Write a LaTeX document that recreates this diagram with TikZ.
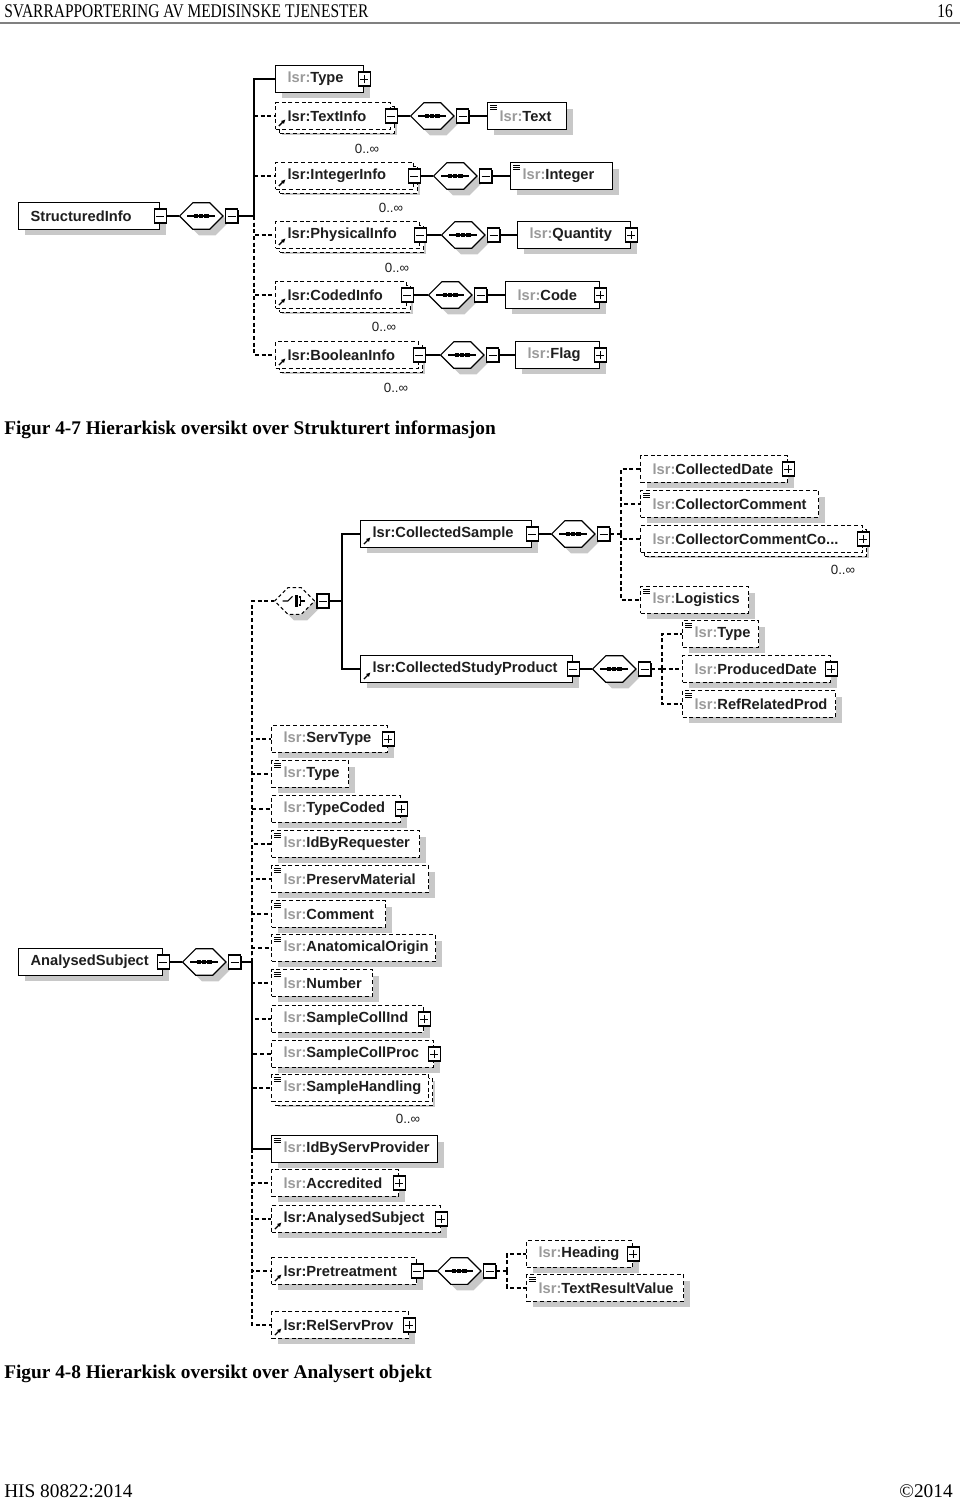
\documentclass[tikz,border=0pt]{standalone}
\usepackage{fontspec}
\setmainfont{Liberation Serif}
\newfontfamily\xsdfont{Liberation Sans}
\newfontfamily\hdrfont[FakeStretch=0.8]{Liberation Serif}
\usetikzlibrary{shapes.misc,shadows,arrows.meta}
\definecolor{pfxgray}{HTML}{9A9A9A}
\definecolor{shgray}{HTML}{C8C8C8}
\definecolor{txtblack}{HTML}{1E1E1E}
\newcommand\lsr[1]{\mbox{\textcolor{pfxgray}{lsr:}#1}}
\newcommand\lsrref[1]{\mbox{lsr:#1}}
\tikzset{
  elem/.style={draw, fill=white, anchor=west, line width=0.9pt, minimum height=20pt,
    inner xsep=9pt, inner ysep=0pt, align=left, text=txtblack,
    font=\xsdfont\bfseries\fontsize{11}{13}\selectfont,
    drop shadow={shadow xshift=4.5pt, shadow yshift=-4.5pt, fill=shgray, opacity=1}},
  bw/.code={\pgfmathsetmacro\bwd{#1*0.75-18}\pgfkeysalso{text width=\bwd pt}},
  optelem/.style={elem, dash pattern=on 3pt off 2pt},
  multielem/.style={optelem, general shadow={shadow xshift=3pt, shadow yshift=-3pt,
    draw=black, fill=white, line width=0.9pt, dash pattern=on 3pt off 2pt}},
  docicon/.style={path picture={
    \foreach \k in {0,1,2}
      \draw[solid, line width=0.5pt] ([xshift=2pt,yshift={-2pt-1.4pt*\k}]path picture bounding box.north west) -- ++(5pt,0pt);}},
  reficon/.style={path picture={
    \draw[solid, line width=1pt, -{Latex[length=3.2pt,width=3.2pt]}]
      ([xshift=2.5pt,yshift=2.5pt]path picture bounding box.south west) -- ++(5pt,5pt);}},
  pmbox/.style={draw, fill=white, solid, line width=0.9pt, minimum width=9pt, minimum height=10.5pt, inner sep=0pt,
    drop shadow={shadow xshift=0.9pt, shadow yshift=-0.9pt, fill=black, opacity=1}},
  pmminus/.style={pmbox, path picture={
    \draw[line width=0.7pt] ([xshift=-3pt]path picture bounding box.center) -- ([xshift=3pt]path picture bounding box.center);}},
  pmplus/.style={pmbox, path picture={
    \draw[line width=0.7pt] ([xshift=-3pt]path picture bounding box.center) -- ([xshift=3pt]path picture bounding box.center)
      ([yshift=-3pt]path picture bounding box.center) -- ([yshift=3pt]path picture bounding box.center);}},
  seqc/.style={chamfered rectangle, chamfered rectangle xsep=5.5pt, chamfered rectangle ysep=5.5pt,
    draw, fill=white, line width=0.9pt, anchor=west, inner sep=0pt,
    text width=23.5pt, text height=4.5pt, text depth=4.5pt,
    drop shadow={shadow xshift=4.5pt, shadow yshift=-4.5pt, fill=shgray, opacity=1},
    path picture={
      \draw[line width=1pt] ([xshift=-10.5pt]path picture bounding box.center) -- ([xshift=10.5pt]path picture bounding box.center);
      \foreach \dx in {-4pt,0pt,4pt}
        \fill[black] ([xshift=\dx]path picture bounding box.center) +(-1.6pt,-1.6pt) rectangle +(1.6pt,1.6pt);}},
  choicec/.style={chamfered rectangle, chamfered rectangle xsep=5pt, chamfered rectangle ysep=5pt,
    draw, fill=white, line width=0.8pt, dash pattern=on 2.5pt off 2pt, anchor=west, inner sep=0pt,
    text width=20pt, text height=5pt, text depth=5pt,
    drop shadow={shadow xshift=4.5pt, shadow yshift=-4.5pt, fill=shgray, opacity=1},
    path picture={
      \coordinate (cc) at (path picture bounding box.center);
      \draw[solid, line width=0.8pt] ([xshift=-9pt]cc) -- ([xshift=-5pt]cc) -- ([xshift=-1.5pt,yshift=3.5pt]cc);
      \foreach \dy in {-3pt,0pt,3pt}
        \fill[black] ([xshift=1.3pt,yshift=\dy]cc) +(-1.2pt,-1.2pt) rectangle +(1.2pt,1.2pt);
      \draw[solid, line width=0.8pt] ([xshift=3pt,yshift=3pt]cc) -- ([xshift=4.8pt,yshift=3pt]cc) -- ([xshift=4.8pt,yshift=-3pt]cc)
        -- ([xshift=3pt,yshift=-3pt]cc) ([xshift=4.8pt]cc) -- ([xshift=8pt]cc);}},
  conn/.style={line width=0.8pt},
  optconn/.style={line width=0.8pt, dash pattern=on 3pt off 2pt},
  occurs/.style={font=\xsdfont\fontsize{10}{12}\selectfont, text=txtblack, inner sep=0pt}
}
\begin{document}
\begin{tikzpicture}[x=0.75pt, y=-0.75pt]
\useasboundingbox (0,0) rectangle (960,1500);
% page header
\node[anchor=base west, inner sep=0pt, font=\hdrfont\fontsize{14.5}{16}\selectfont] (hdr) at (4,17) {SVARRAPPORTERING AV MEDISINSKE TJENESTER};
\node[anchor=base east, inner sep=0pt, font=\hdrfont\fontsize{14.5}{16}\selectfont] (pgno) at (953,17) {16};
\draw[gray, line width=1.2pt] (0,23) -- (960,23);

% Figur 4-7
\node[elem, bw=141] (structinfo) at (18,216) {\mbox{StructuredInfo}};
\node[pmminus] (structinfo-pm) at (structinfo.east) {};
\node[seqc] (structinfo-seq) at (179,216) {};
\node[pmminus] (structinfo-seqpm) at ([xshift=6pt]structinfo-seq.east) {};
\coordinate (br-a) at (254,216);
\draw[conn] (structinfo-pm) -- (structinfo-seq);
\draw[conn] (structinfo-seqpm) -- (br-a);

\node[elem, bw=88] (type) at (275,79) {\lsr{Type}};
\node[pmplus] (type-pm) at (type.east) {};

\node[multielem, reficon, bw=115] (textinfo) at (275,116) {\lsrref{TextInfo}};
\node[pmminus] (textinfo-pm) at (textinfo.east) {};
\node[seqc] (textinfo-seq) at (410,116) {};
\node[pmminus] (textinfo-seqpm) at ([xshift=6pt]textinfo-seq.east) {};
\node[elem, docicon, bw=79] (text) at (487,116) {\lsr{Text}};
\node[occurs] (textinfo-occ) at (367,149) {0..\char"221E};

\node[multielem, reficon, bw=138] (integerinfo) at (275,176) {\lsrref{IntegerInfo}};
\node[pmminus] (integerinfo-pm) at (integerinfo.east) {};
\node[seqc] (integerinfo-seq) at (433,176) {};
\node[pmminus] (integerinfo-seqpm) at ([xshift=6pt]integerinfo-seq.east) {};
\node[elem, docicon, bw=102] (integer) at (510,176) {\lsr{Integer}};
\node[occurs] (integerinfo-occ) at (391,208) {0..\char"221E};

\node[multielem, reficon, bw=144] (physicalinfo) at (275,235) {\lsrref{PhysicalInfo}};
\node[pmminus] (physicalinfo-pm) at (physicalinfo.east) {};
\node[seqc] (physicalinfo-seq) at (441,235) {};
\node[pmminus] (physicalinfo-seqpm) at ([xshift=6pt]physicalinfo-seq.east) {};
\node[elem, bw=113] (quantity) at (517,235) {\lsr{Quantity}};
\node[pmplus] (quantity-pm) at (quantity.east) {};
\node[occurs] (physicalinfo-occ) at (397,268) {0..\char"221E};

\node[multielem, reficon, bw=131] (codedinfo) at (275,295) {\lsrref{CodedInfo}};
\node[pmminus] (codedinfo-pm) at (codedinfo.east) {};
\node[seqc] (codedinfo-seq) at (428,295) {};
\node[pmminus] (codedinfo-seqpm) at ([xshift=6pt]codedinfo-seq.east) {};
\node[elem, bw=94] (code) at (505,295) {\lsr{Code}};
\node[pmplus] (code-pm) at (code.east) {};
\node[occurs] (codedinfo-occ) at (384,327) {0..\char"221E};

\node[multielem, reficon, bw=143] (booleaninfo) at (275,355) {\lsrref{BooleanInfo}};
\node[pmminus] (booleaninfo-pm) at (booleaninfo.east) {};
\node[seqc] (booleaninfo-seq) at (440,355) {};
\node[pmminus] (booleaninfo-seqpm) at ([xshift=6pt]booleaninfo-seq.east) {};
\node[elem, bw=84] (flag) at (515,355) {\lsr{Flag}};
\node[pmplus] (flag-pm) at (flag.east) {};
\node[occurs] (booleaninfo-occ) at (396,388) {0..\char"221E};

\foreach \c in {textinfo,integerinfo,physicalinfo,codedinfo,booleaninfo}
  \draw[optconn] (br-a) |- (\c);
\draw[conn] (br-a) |- (type);
\draw[conn] (textinfo-pm) -- (textinfo-seq);
\draw[conn] (textinfo-seqpm) -- (text);
\draw[conn] (integerinfo-pm) -- (integerinfo-seq);
\draw[conn] (integerinfo-seqpm) -- (integer);
\draw[conn] (physicalinfo-pm) -- (physicalinfo-seq);
\draw[conn] (physicalinfo-seqpm) -- (quantity);
\draw[conn] (codedinfo-pm) -- (codedinfo-seq);
\draw[conn] (codedinfo-seqpm) -- (code);
\draw[conn] (booleaninfo-pm) -- (booleaninfo-seq);
\draw[conn] (booleaninfo-seqpm) -- (flag);

\node[anchor=base west, inner sep=0pt, font=\bfseries\fontsize{14.5}{16}\selectfont] (cap47) at (4,434) {Figur 4-7 Hierarkisk oversikt over Strukturert informasjon};

% Figur 4-8
\node[elem, bw=144] (anasubj) at (18,962) {\mbox{AnalysedSubject}};
\node[pmminus] (anasubj-pm) at (anasubj.east) {};
\node[seqc] (anasubj-seq) at (182,962) {};
\node[pmminus] (anasubj-seqpm) at ([xshift=6pt]anasubj-seq.east) {};
\coordinate (br-b) at (252,962);
\draw[conn] (anasubj-pm) -- (anasubj-seq);
\draw[conn] (anasubj-seqpm) -- (br-b);

\node[choicec] (choice) at (274,601) {};
\node[pmminus] (choice-pm) at ([xshift=6pt]choice.east) {};
\coordinate (br-c) at (342,601);

\node[elem, reficon, bw=171] (colsample) at (360,534) {\lsrref{CollectedSample}};
\node[pmminus] (colsample-pm) at (colsample.east) {};
\node[seqc] (colsample-seq) at (551,534) {};
\node[pmminus] (colsample-seqpm) at ([xshift=6pt]colsample-seq.east) {};
\coordinate (br-d) at (621,534);
\node[optelem, bw=147] (coldate) at (640,469) {\lsr{CollectedDate}};
\node[pmplus] (coldate-pm) at (coldate.east) {};
\node[optelem, docicon, bw=178] (colcomment) at (640,504) {\lsr{CollectorComment}};
\node[multielem, bw=222] (colcommentco) at (640,539) {\lsr{CollectorCommentCo...}};
\node[pmplus] (colcommentco-pm) at (colcommentco.east) {};
\node[occurs] (colcommentco-occ) at (843,570) {0..\char"221E};
\node[optelem, docicon, bw=108] (logistics) at (640,600) {\lsr{Logistics}};

\node[elem, reficon, bw=212] (colstudy) at (360,669) {\lsrref{CollectedStudyProduct}};
\node[pmminus] (colstudy-pm) at (colstudy.east) {};
\node[seqc] (colstudy-seq) at (592,669) {};
\node[pmminus] (colstudy-seqpm) at ([xshift=6pt]colstudy-seq.east) {};
\coordinate (br-e) at (662,669);
\node[optelem, docicon, bw=76] (studytype) at (682,634) {\lsr{Type}};
\node[optelem, bw=148] (proddate) at (682,669) {\lsr{ProducedDate}};
\node[pmplus] (proddate-pm) at (proddate.east) {};
\node[optelem, docicon, bw=153] (refrelated) at (682,704) {\lsr{RefRelatedProd}};

\node[optelem, bw=116] (servtype) at (271,739) {\lsr{ServType}};
\node[pmplus] (servtype-pm) at (servtype.east) {};
\node[optelem, docicon, bw=77] (subjtype) at (271,774) {\lsr{Type}};
\node[optelem, bw=129] (typecoded) at (271,809) {\lsr{TypeCoded}};
\node[pmplus] (typecoded-pm) at (typecoded.east) {};
\node[optelem, docicon, bw=148] (idbyreq) at (271,844) {\lsr{IdByRequester}};
\node[optelem, docicon, bw=157] (preserv) at (271,879) {\lsr{PreservMaterial}};
\node[optelem, docicon, bw=114] (comment) at (271,914) {\lsr{Comment}};
\node[optelem, docicon, bw=164] (anatorigin) at (271,948) {\lsr{AnatomicalOrigin}};
\node[optelem, docicon, bw=101] (number) at (271,983) {\lsr{Number}};
\node[optelem, bw=152] (collind) at (271,1019) {\lsr{SampleCollInd}};
\node[pmplus] (collind-pm) at (collind.east) {};
\node[optelem, bw=162] (collproc) at (271,1054) {\lsr{SampleCollProc}};
\node[pmplus] (collproc-pm) at (collproc.east) {};
\node[multielem, docicon, bw=157] (handling) at (271,1088) {\lsr{SampleHandling}};
\node[occurs] (handling-occ) at (408,1119) {0..\char"221E};
\node[elem, docicon, bw=166] (idbyserv) at (271,1149) {\lsr{IdByServProvider}};
\node[optelem, bw=127] (accredited) at (271,1183) {\lsr{Accredited}};
\node[pmplus] (accredited-pm) at (accredited.east) {};
\node[optelem, reficon, bw=169] (anasubjref) at (271,1219) {\lsrref{AnalysedSubject}};
\node[pmplus] (anasubjref-pm) at (anasubjref.east) {};
\node[optelem, reficon, bw=145] (pretreat) at (271,1271) {\lsrref{Pretreatment}};
\node[pmminus] (pretreat-pm) at (pretreat.east) {};
\node[seqc] (pretreat-seq) at (437,1271) {};
\node[pmminus] (pretreat-seqpm) at ([xshift=6pt]pretreat-seq.east) {};
\coordinate (br-f) at (507,1271);
\node[optelem, bw=106] (heading) at (526,1254) {\lsr{Heading}};
\node[pmplus] (heading-pm) at (heading.east) {};
\node[optelem, docicon, bw=157] (textresult) at (526,1288) {\lsr{TextResultValue}};
\node[optelem, reficon, bw=137] (relservprov) at (271,1325) {\lsrref{RelServProv}};
\node[pmplus] (relservprov-pm) at (relservprov.east) {};

\foreach \c in {choice,servtype,subjtype,typecoded,idbyreq,preserv,comment,anatorigin,number,
    collind,collproc,handling,accredited,anasubjref,pretreat,relservprov}
  \draw[optconn] (br-b) |- (\c);
\draw[conn] (br-b) |- (idbyserv);
\draw[conn] (choice-pm) -- (br-c);
\draw[conn] (br-c) |- (colsample);
\draw[conn] (br-c) |- (colstudy);
\draw[conn] (colsample-pm) -- (colsample-seq);
\draw[optconn] (colsample-seqpm) -- (br-d);
\foreach \c in {coldate,colcomment,colcommentco,logistics}
  \draw[optconn] (br-d) |- (\c);
\draw[conn] (colstudy-pm) -- (colstudy-seq);
\draw[optconn] (colstudy-seqpm) -- (br-e);
\foreach \c in {studytype,proddate,refrelated}
  \draw[optconn] (br-e) |- (\c);
\draw[conn] (pretreat-pm) -- (pretreat-seq);
\draw[optconn] (pretreat-seqpm) -- (br-f);
\foreach \c in {heading,textresult}
  \draw[optconn] (br-f) |- (\c);

\node[anchor=base west, inner sep=0pt, font=\bfseries\fontsize{14.5}{16}\selectfont] (cap48) at (4,1378) {Figur 4-8 Hierarkisk oversikt over Analysert objekt};

% page footer
\node[anchor=base west, inner sep=0pt, font=\fontsize{14.5}{16}\selectfont] (ftr) at (4,1497) {HIS 80822:2014};
\node[anchor=base east, inner sep=0pt, font=\fontsize{14.5}{16}\selectfont] (copy) at (953,1497) {©2014};
\end{tikzpicture}
\end{document}
